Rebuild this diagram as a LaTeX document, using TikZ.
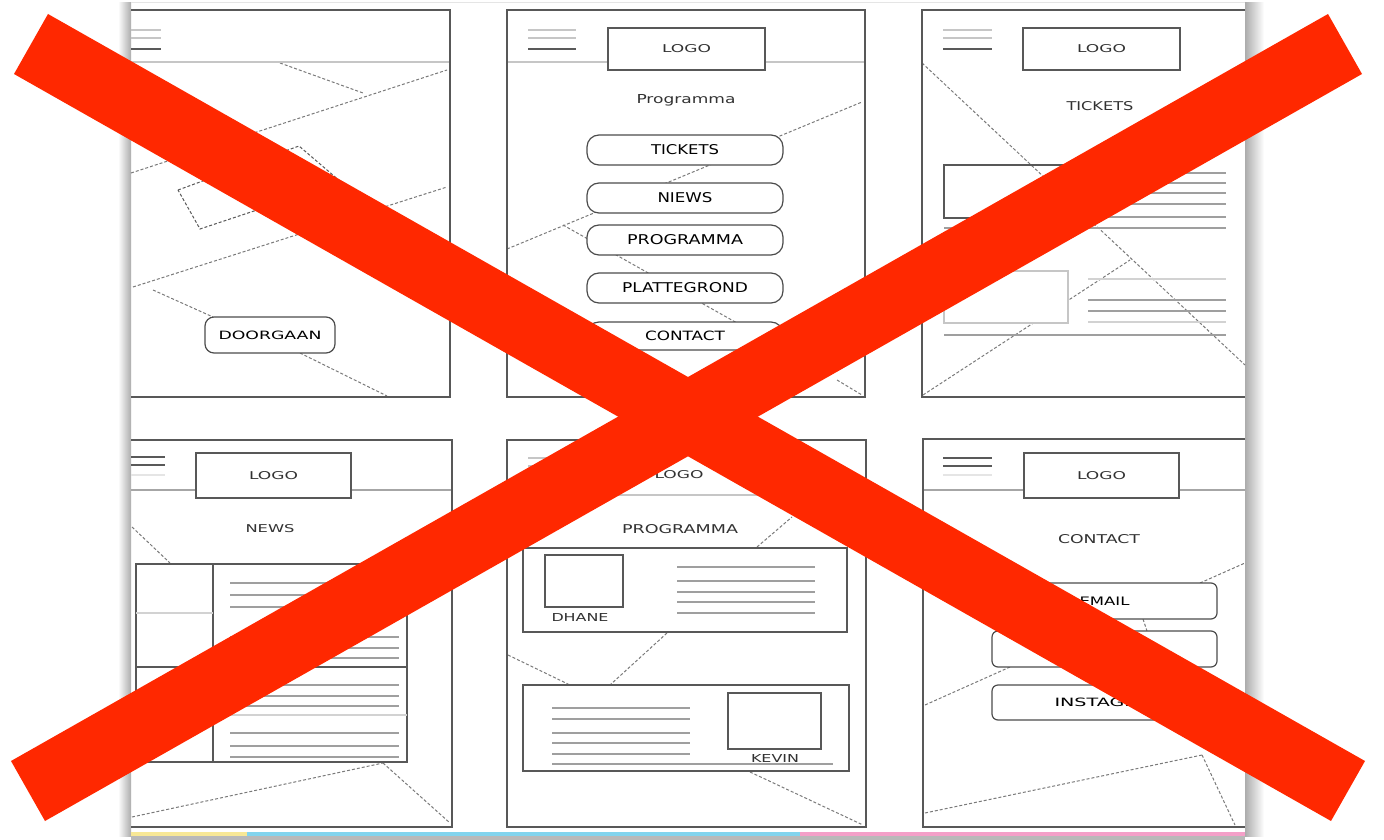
\documentclass[tikz,border=0pt]{standalone}
\usepackage{fontspec}
\setmainfont{DejaVu Sans}
\usepackage{graphicx}
\definecolor{xred}{RGB}{255,40,0}
\definecolor{fr}{RGB}{88,88,88}
\definecolor{txt}{RGB}{50,50,50}
\definecolor{yel}{RGB}{248,232,150}
\definecolor{cya}{RGB}{130,212,238}
\definecolor{pnk}{RGB}{244,160,200}
\newcommand\wt[3]{\resizebox{#1pt}{#2pt}{#3}}
\begin{document}
\begin{tikzpicture}[x=1pt,y=-1pt,
  frame/.style={draw=fr, line width=1.8pt},
  hline/.style={draw=gray!45, line width=1.3pt},
  hamlight/.style={draw=gray!45, line width=1.3pt},
  hamdark/.style={draw=gray!70!black, line width=1.6pt},
  cline/.style={draw=gray!75, line width=1.5pt},
  clight/.style={draw=gray!35, line width=1.2pt},
  dline/.style={draw=black!52, line width=1pt, dash pattern=on 3pt off 2pt},
  box/.style={draw=fr, line width=1.5pt, fill=white},
  btn/.style={draw=gray!60!black, line width=1.2pt, rounded corners=12pt, fill=white, inner sep=0pt},
  sbtn/.style={draw=gray!60!black, line width=1.2pt, rounded corners=6pt, fill=white, inner sep=0pt},
  lbl/.style={inner sep=0pt, text=txt},
  bar/.style={fill=xred}]
\useasboundingbox (0,0) rectangle (1384,840);
\fill[white] (0,0) rectangle (1384,840);
% sheet shadows and strip
\shade[left color=white, right color=gray!65] (118,3) rectangle (131,836);
\shade[left color=gray!65, right color=white] (1245,3) rectangle (1264,836);
\fill[gray!55] (131,836) rectangle (1245,840);
\draw[gray!20, line width=1pt] (131,3) -- (1245,3);
\fill[yel] (131,832) rectangle (247,835.5);
\fill[cya] (247,832) rectangle (800,835.5);
\fill[pnk] (800,832) rectangle (1245,835.5);

% ================= Panel 1 =================
\draw[dline] (280,63) -- (363,93);
\draw[dline] (131,173) -- (447,70);
\draw[dline] (133,287) -- (447,187);
\draw[dline] (153,290) -- (213,317);
\draw[dline] (300,353) -- (387,396);
\draw[dline, draw=black!65, fill=white] (178,190) -- (299,146) -- (341,182) -- (200,229) -- cycle;
\draw[hline] (131,62) -- (450,62);
\draw[hamlight] (131,30) -- (161,30);
\draw[hamlight] (131,38) -- (161,38);
\draw[hamdark] (131,49) -- (161,49);
\draw[frame] (131,10) -- (450,10) -- (450,397) -- (131,397);
\node[btn, rounded corners=9pt, minimum width=130pt, minimum height=36pt] (door) at (270,335) {\wt{103}{8.5}{DOORGAAN}};

% ================= Panel 2 =================
\draw[dline] (507,249) -- (862,102);
\draw[dline] (563,225) -- (737,323);
\draw[dline] (837,380) -- (862,395);
\draw[hline] (507,62) -- (608,62);
\draw[hline] (765,62) -- (865,62);
\draw[hamlight] (528,30) -- (576,30);
\draw[hamlight] (528,38) -- (576,38);
\draw[hamdark] (528,49) -- (576,49);
\draw[frame] (507,10) rectangle (865,397);
\draw[box] (608,28) rectangle (765,70);
\node[lbl] (p2logo) at (686.5,49) {\wt{49}{8}{LOGO}};
\node[lbl] (p2title) at (686,100) {\wt{99}{9}{Programma}};
\node[btn, minimum width=196pt, minimum height=30pt] (tick) at (685,150) {\wt{68}{10}{TICKETS}};
\node[btn, minimum width=196pt, minimum height=30pt] (niews) at (685,198) {\wt{55}{10}{NIEWS}};
\node[btn, minimum width=196pt, minimum height=30pt] (prog) at (685,240) {\wt{116}{10}{PROGRAMMA}};
\node[btn, minimum width=196pt, minimum height=30pt] (plat) at (685,288) {\wt{126}{10}{PLATTEGROND}};
\node[btn, minimum width=196pt, minimum height=28pt] (cont) at (685,336) {\wt{80}{9.5}{CONTACT}};

% ================= Panel 3 =================
\draw[dline] (922,63) -- (1245,365);
\draw[dline] (923,395) -- (1130,260);
\draw[hamlight] (943,30) -- (992,30);
\draw[hamlight] (943,38) -- (992,38);
\draw[hamdark] (943,49) -- (992,49);
\draw[frame] (1245,10) -- (922,10) -- (922,397) -- (1245,397);
\draw[box] (1023,28) rectangle (1180,70);
\node[lbl] (p3logo) at (1101.5,49) {\wt{49}{8}{LOGO}};
\node[lbl] (p3title) at (1100,106) {\wt{67}{9}{TICKETS}};
\draw[box, fill=none] (944,165) rectangle (1078,218);
\foreach \yy in {173,183,193,204,217} \draw[cline] (1087,\yy) -- (1226,\yy);
\draw[cline] (944,228) -- (1226,228);
\draw[draw=gray!45, line width=1.3pt, fill=white] (944,271) rectangle (1068,323);
\draw[clight] (1088,279) -- (1226,279);
\draw[cline] (1088,300) -- (1226,300);
\draw[cline] (1088,311) -- (1226,311);
\draw[clight] (1088,322) -- (1226,322);
\draw[cline] (944,335) -- (1226,335);

% ================= Panel 4 =================
\draw[dline] (132,527) -- (170,563);
\draw[dline] (132,817) -- (383,763);
\draw[dline] (383,763) -- (450,823);
\draw[hline, draw=gray!70] (131,490) -- (196,490);
\draw[hline, draw=gray!70] (351,490) -- (452,490);
\draw[hamdark] (131,457) -- (165,457);
\draw[hamdark] (131,465) -- (165,465);
\draw[hamlight, draw=gray!20] (131,475) -- (165,475);
\draw[frame] (131,440) -- (452,440) -- (452,827) -- (131,827);
\draw[box] (196,453) rectangle (351,498);
\node[lbl] (p4logo) at (273.5,475.5) {\wt{49}{8}{LOGO}};
\node[lbl] (p4title) at (270,529) {\wt{49}{8}{NEWS}};
\draw[box, fill=white] (136,564) rectangle (407,762);
\draw[box] (213,564) -- (213,762);
\draw[box] (136,667) -- (407,667);
\draw[clight] (136,613) -- (213,613);
\draw[clight] (213,715) -- (407,715);
\foreach \yy in {583,595,607,637,648,658,685,696,706,733,746,757} \draw[cline] (230,\yy) -- (399,\yy);

% ================= Panel 5 =================
\draw[dline] (757,547) -- (792,517);
\draw[dline] (667,633) -- (610,685);
\draw[dline] (508,655) -- (572,686);
\draw[dline] (750,772) -- (863,825);
\draw[hline] (507,495) -- (866,495);
\draw[hamlight] (528,458) -- (576,458);
\draw[hamlight] (528,466) -- (576,466);
\draw[frame] (507,440) rectangle (866,827);
\node[lbl] (p5logo) at (679,474.5) {\wt{49}{8}{LOGO}};
\node[lbl] (p5title) at (680,529) {\wt{116}{9}{PROGRAMMA}};
\draw[box] (523,548) rectangle (847,632);
\draw[box] (545,555) rectangle (623,607);
\node[lbl] (dhane) at (580,617) {\wt{57}{8}{DHANE}};
\foreach \yy in {567,581,592,602,613} \draw[cline] (677,\yy) -- (815,\yy);
\draw[box] (523,685) rectangle (849,771);
\foreach \yy in {708,719,733,743,754} \draw[cline] (552,\yy) -- (690,\yy);
\draw[cline] (552,764) -- (833,764);
\draw[box] (728,693) rectangle (821,749);
\node[lbl] (kevin) at (775,758) {\wt{48}{8}{KEVIN}};

% ================= Panel 6 =================
\draw[dline] (1200,583) -- (1245,563);
\draw[dline] (1143,619) -- (1147,631);
\draw[dline] (1010,667) -- (925,705);
\draw[dline] (925,813) -- (1202,755);
\draw[dline] (1202,755) -- (1235,825);
\draw[hline, draw=gray!70] (923,490) -- (1024,490);
\draw[hline, draw=gray!70] (1179,490) -- (1245,490);
\draw[hamdark] (943,458) -- (992,458);
\draw[hamdark] (943,466) -- (992,466);
\draw[hamlight, draw=gray!20] (943,475) -- (992,475);
\draw[frame] (1245,439) -- (923,439) -- (923,827) -- (1245,827);
\draw[box] (1024,453) rectangle (1179,498);
\node[lbl] (p6logo) at (1101.5,475.5) {\wt{49}{8}{LOGO}};
\node[lbl] (p6title) at (1099,539) {\wt{82}{9}{CONTACT}};
\node[sbtn, minimum width=225pt, minimum height=36pt] (email) at (1104.5,601) {\wt{50}{8.5}{EMAIL}};
\node[sbtn, minimum width=225pt, minimum height=36pt] (btn2) at (1104.5,649) {};
\node[sbtn, minimum width=225pt, minimum height=35pt] (insta) at (1104.5,702.5) {\hspace*{12pt}\wt{112}{8.5}{INSTAGRAM}};

% ================= Red X =================
\fill[bar] (48,14) -- (1365,761) -- (1331,821) -- (14,74) -- cycle;
\fill[bar] (1328,14) -- (11,761) -- (45,821) -- (1362,74) -- cycle;
\end{tikzpicture}
\end{document}
